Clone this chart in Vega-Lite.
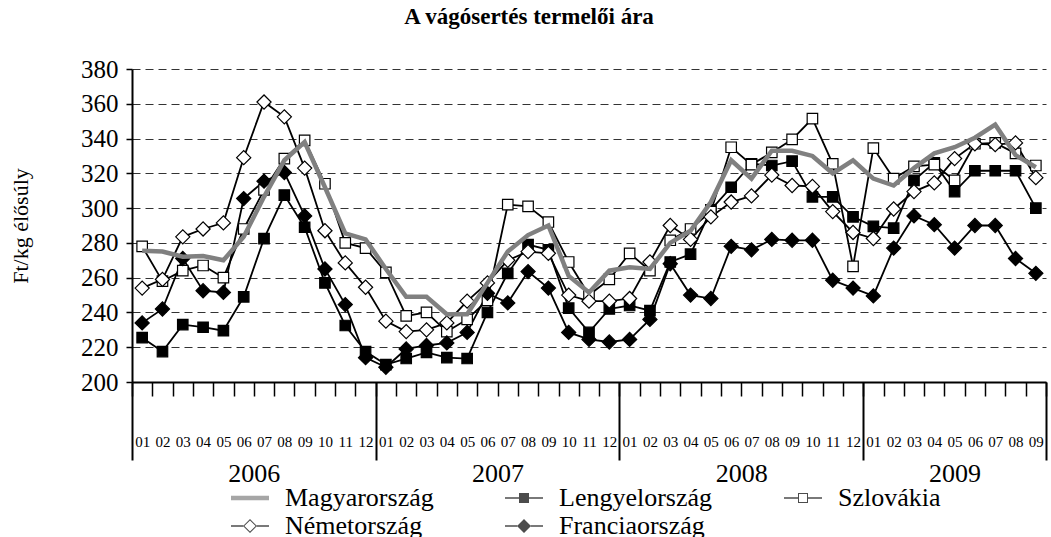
{
  "$schema": "https://vega.github.io/schema/vega-lite/v6.json",
  "width": 914,
  "height": 313,
  "autosize": "none",
  "padding": {"left": 132, "top": 69, "right": 5, "bottom": 155},
  "config": {
    "font": "Liberation Serif",
    "view": {"stroke": null},
    "axis": {"labelFont": "Liberation Serif", "titleFont": "Liberation Serif", "labelColor": "black", "titleColor": "black"},
    "legend": {
      "orient": "none",
      "direction": "horizontal",
      "legendX": 105,
      "legendY": 416,
      "columns": 3,
      "columnPadding": 71,
      "rowPadding": 2,
      "symbolSize": 400,
      "symbolStrokeWidth": 0,
      "labelFont": "Liberation Serif",
      "labelFontSize": 26,
      "labelColor": "black",
      "labelOffset": 22,
      "labelLimit": 400,
      "padding": 0
    }
  },
  "title": {
    "text": "A vágósertés termelői ára",
    "font": "Liberation Serif",
    "fontSize": 23,
    "fontWeight": "bold",
    "color": "black",
    "anchor": "middle",
    "offset": 28,
    "dx": -60
  },
  "layer": [
    {
      "data": {
        "values": [
          {"m": "2006-01", "Magyarország": 275.5, "Lengyelország": 225.5, "Szlovákia": 278, "Németország": 254, "Franciaország": 234},
          {"m": "2006-02", "Magyarország": 275, "Lengyelország": 217.5, "Szlovákia": 258, "Németország": 259, "Franciaország": 242},
          {"m": "2006-03", "Magyarország": 272, "Lengyelország": 233, "Szlovákia": 264, "Németország": 283.5, "Franciaország": 271},
          {"m": "2006-04", "Magyarország": 272.5, "Lengyelország": 231.5, "Szlovákia": 267, "Németország": 288, "Franciaország": 252.5},
          {"m": "2006-05", "Magyarország": 270, "Lengyelország": 229.5, "Szlovákia": 260, "Németország": 291.5, "Franciaország": 251.5},
          {"m": "2006-06", "Magyarország": 283.5, "Lengyelország": 249, "Szlovákia": 288, "Németország": 329, "Franciaország": 305.5},
          {"m": "2006-07", "Magyarország": 306.5, "Lengyelország": 282.5, "Szlovákia": 310.5, "Németország": 361, "Franciaország": 315.5},
          {"m": "2006-08", "Magyarország": 327.5, "Lengyelország": 307.5, "Szlovákia": 328.5, "Németország": 352.5, "Franciaország": 320.5},
          {"m": "2006-09", "Magyarország": 338, "Lengyelország": 289, "Szlovákia": 339, "Németország": 323, "Franciaország": 295.5},
          {"m": "2006-10", "Magyarország": 312, "Lengyelország": 257, "Szlovákia": 314, "Németország": 287, "Franciaország": 265},
          {"m": "2006-11", "Magyarország": 285.5, "Lengyelország": 232.5, "Szlovákia": 280, "Németország": 268.5, "Franciaország": 244.5},
          {"m": "2006-12", "Magyarország": 282, "Lengyelország": 217.5, "Szlovákia": 277, "Németország": 254.5, "Franciaország": 214},
          {"m": "2007-01", "Magyarország": 265, "Lengyelország": 210, "Szlovákia": 263, "Németország": 235, "Franciaország": 208.5},
          {"m": "2007-02", "Magyarország": 249, "Lengyelország": 213.5, "Szlovákia": 238, "Németország": 229, "Franciaország": 219},
          {"m": "2007-03", "Magyarország": 249, "Lengyelország": 217, "Szlovákia": 240, "Németország": 230, "Franciaország": 221},
          {"m": "2007-04", "Magyarország": 239, "Lengyelország": 214, "Szlovákia": 229, "Németország": 234, "Franciaország": 222.5},
          {"m": "2007-05", "Magyarország": 239, "Lengyelország": 213.5, "Szlovákia": 236, "Németország": 246.5, "Franciaország": 228.5},
          {"m": "2007-06", "Magyarország": 257, "Lengyelország": 240, "Szlovákia": 247, "Németország": 257, "Franciaország": 251},
          {"m": "2007-07", "Magyarország": 275, "Lengyelország": 262.5, "Szlovákia": 302, "Németország": 270, "Franciaország": 245.5},
          {"m": "2007-08", "Magyarország": 284.5, "Lengyelország": 279, "Szlovákia": 301, "Németország": 275, "Franciaország": 263.5},
          {"m": "2007-09", "Magyarország": 290, "Lengyelország": 276, "Szlovákia": 292, "Németország": 274, "Franciaország": 254},
          {"m": "2007-10", "Magyarország": 261, "Lengyelország": 242.5, "Szlovákia": 269, "Németország": 250, "Franciaország": 228.5},
          {"m": "2007-11", "Magyarország": 251.5, "Lengyelország": 228.5, "Szlovákia": 250, "Németország": 246.5, "Franciaország": 224.5},
          {"m": "2007-12", "Magyarország": 264, "Lengyelország": 242, "Szlovákia": 259, "Németország": 246.5, "Franciaország": 223},
          {"m": "2008-01", "Magyarország": 266, "Lengyelország": 244, "Szlovákia": 274, "Németország": 248, "Franciaország": 224.5},
          {"m": "2008-02", "Magyarország": 265, "Lengyelország": 241, "Szlovákia": 264, "Németország": 269, "Franciaország": 236},
          {"m": "2008-03", "Magyarország": 280, "Lengyelország": 269, "Szlovákia": 281.5, "Németország": 290, "Franciaország": 268},
          {"m": "2008-04", "Magyarország": 287, "Lengyelország": 273.5, "Szlovákia": 288, "Németország": 282, "Franciaország": 250},
          {"m": "2008-05", "Magyarország": 303.5, "Lengyelország": 299, "Szlovákia": 298, "Németország": 295, "Franciaország": 248},
          {"m": "2008-06", "Magyarország": 327.5, "Lengyelország": 312, "Szlovákia": 335, "Németország": 303.5, "Franciaország": 278},
          {"m": "2008-07", "Magyarország": 317, "Lengyelország": 325.5, "Szlovákia": 325, "Németország": 307, "Franciaország": 276},
          {"m": "2008-08", "Magyarország": 333, "Lengyelország": 324.5, "Szlovákia": 332, "Németország": 319, "Franciaország": 282},
          {"m": "2008-09", "Magyarország": 333, "Lengyelország": 327, "Szlovákia": 339.5, "Németország": 313, "Franciaország": 281.5},
          {"m": "2008-10", "Magyarország": 330, "Lengyelország": 306.5, "Szlovákia": 351.5, "Németország": 312.5, "Franciaország": 281.5},
          {"m": "2008-11", "Magyarország": 320, "Lengyelország": 306.5, "Szlovákia": 325.5, "Németország": 298, "Franciaország": 258.5},
          {"m": "2008-12", "Magyarország": 327.5, "Lengyelország": 295, "Szlovákia": 266.5, "Németország": 286, "Franciaország": 254},
          {"m": "2009-01", "Magyarország": 317, "Lengyelország": 289.5, "Szlovákia": 334.5, "Németország": 282.5, "Franciaország": 249.5},
          {"m": "2009-02", "Magyarország": 313, "Lengyelország": 288.5, "Szlovákia": 317, "Németország": 299.5, "Franciaország": 277},
          {"m": "2009-03", "Magyarország": 323, "Lengyelország": 316, "Szlovákia": 324, "Németország": 309.5, "Franciaország": 295.5},
          {"m": "2009-04", "Magyarország": 331.5, "Lengyelország": 326, "Szlovákia": 325, "Németország": 314.5, "Franciaország": 290.5},
          {"m": "2009-05", "Magyarország": 335, "Lengyelország": 309.5, "Szlovákia": 316, "Németország": 328.5, "Franciaország": 277},
          {"m": "2009-06", "Magyarország": 340.5, "Lengyelország": 321.5, "Szlovákia": 337, "Németország": 337, "Franciaország": 290},
          {"m": "2009-07", "Magyarország": 348, "Lengyelország": 321.5, "Szlovákia": 337.5, "Németország": 336.5, "Franciaország": 290},
          {"m": "2009-08", "Magyarország": 330.5, "Lengyelország": 321.5, "Szlovákia": 331.5, "Németország": 337.5, "Franciaország": 271},
          {"m": "2009-09", "Magyarország": 323.5, "Lengyelország": 300, "Szlovákia": 324.5, "Németország": 317.5, "Franciaország": 262.5}
        ]
      },
      "transform": [
        {"fold": ["Magyarország", "Lengyelország", "Szlovákia", "Németország", "Franciaország"], "as": ["c", "v"]}
      ],
      "encoding": {
        "x": {
          "field": "m",
          "type": "ordinal",
          "scale": {"paddingInner": 0, "paddingOuter": 0},
          "axis": {
            "orient": "bottom",
            "labelExpr": "isValid(datum.value) ? substring(datum.value + '', 5, 7) : ''",
            "title": null,
            "ticks": true,
            "tickBand": "extent",
            "tickSize": 14,
            "tickWidth": 1.5,
            "tickColor": "black",
            "domainColor": "black",
            "domainWidth": 2,
            "labelAngle": 0,
            "labelFontSize": 15,
            "labelPadding": 38,
            "labelOverlap": false
          }
        },
        "y": {
          "field": "v",
          "type": "quantitative",
          "scale": {"domain": [200, 380], "nice": false, "zero": false},
          "axis": {
            "values": [200, 220, 240, 260, 280, 300, 320, 340, 360, 380],
            "grid": true,
            "gridDash": [8, 5],
            "gridColor": "#333333",
            "gridWidth": 1,
            "domainColor": "black",
            "domainWidth": 2,
            "tickColor": "black",
            "tickSize": 6,
            "tickWidth": 1.5,
            "labelFontSize": 25,
            "labelPadding": 8,
            "title": "Ft/kg élősúly",
            "titleFontSize": 22,
            "titleFontWeight": "normal",
            "titlePadding": 48
          }
        }
      },
      "layer": [
        {
          "transform": [{"filter": "datum.c !== 'Magyarország'"}],
          "mark": {"type": "line", "color": "black", "strokeWidth": 1.8},
          "encoding": {"detail": {"field": "c"}}
        },
        {
          "transform": [{"filter": "datum.c === 'Lengyelország'"}],
          "mark": {"type": "point", "shape": "square", "size": 110, "filled": true, "fill": "black", "stroke": "black", "strokeWidth": 1.2, "opacity": 1}
        },
        {
          "transform": [{"filter": "datum.c === 'Szlovákia'"}],
          "mark": {"type": "point", "shape": "square", "size": 110, "filled": true, "fill": "white", "stroke": "black", "strokeWidth": 1.2, "opacity": 1}
        },
        {
          "transform": [{"filter": "datum.c === 'Németország'"}],
          "mark": {"type": "point", "shape": "diamond", "size": 200, "filled": true, "fill": "white", "stroke": "black", "strokeWidth": 1.2, "opacity": 1}
        },
        {
          "transform": [{"filter": "datum.c === 'Franciaország'"}],
          "mark": {"type": "point", "shape": "diamond", "size": 200, "filled": true, "fill": "black", "stroke": "black", "strokeWidth": 1.2, "opacity": 1}
        },
        {
          "transform": [{"filter": "datum.c === 'Magyarország'"}],
          "mark": {"type": "line", "color": "#808080", "strokeWidth": 4.5},
          "encoding": {}
        }
      ]
    },
    {
      "data": {"values": [{"b": 0}, {"b": 12}, {"b": 24}, {"b": 36}, {"b": 45}]},
      "mark": {"type": "point", "opacity": 0},
      "encoding": {
        "x": {
          "field": "b",
          "type": "quantitative",
          "scale": {"domain": [0, 45], "nice": false, "zero": false},
          "axis": {"orient": "bottom", "values": [0, 12, 24, 36, 45], "labels": false, "domain": false, "grid": false, "ticks": true, "tickSize": 78, "tickWidth": 2, "tickColor": "black", "title": null}
        }
      }
    },
    {
      "data": {"values": [{"cy": 6}, {"cy": 18}, {"cy": 30}, {"cy": 40.5}]},
      "mark": {"type": "point", "opacity": 0},
      "encoding": {
        "x": {
          "field": "cy",
          "type": "quantitative",
          "scale": {"domain": [0, 45], "nice": false, "zero": false},
          "axis": {"orient": "bottom", "values": [6, 18, 30, 40.5], "labelExpr": "datum.value < 12 ? '2006' : datum.value < 24 ? '2007' : datum.value < 36 ? '2008' : '2009'", "ticks": false, "tickSize": 0, "domain": false, "grid": false, "labelFontSize": 26, "labelPadding": 78, "labelFlush": false, "labelOverlap": false, "title": null}
        }
      }
    },
    {
      "data": {"values": [{"c": "Magyarország"}, {"c": "Lengyelország"}, {"c": "Szlovákia"}, {"c": "Németország"}, {"c": "Franciaország"}]},
      "transform": [{"filter": "false"}],
      "mark": {"type": "point", "filled": true},
      "encoding": {
        "shape": {
          "field": "c",
          "type": "nominal",
          "scale": {
            "domain": ["Magyarország", "Lengyelország", "Szlovákia", "Németország", "Franciaország"],
            "range": [
              "M-1.9,-0.22H1.9V0.22H-1.9Z",
              "M-1.9,-0.08H-0.5V0.08H-1.9Z M0.5,-0.08H1.9V0.08H0.5Z M-0.5,-0.5H0.5V0.5H-0.5Z",
              "M-1.9,-0.08H-0.5V0.08H-1.9Z M0.5,-0.08H1.9V0.08H0.5Z M-0.5,-0.5H0.5V0.5H-0.5Z M-0.4,-0.4V0.4H0.4V-0.4Z",
              "M-1.9,-0.08H-0.68V0.08H-1.9Z M0.68,-0.08H1.9V0.08H0.68Z M-0.7,0L0,-0.7L0.7,0L0,0.7Z M-0.56,0L0,0.56L0.56,0L0,-0.56Z",
              "M-1.9,-0.08H-0.68V0.08H-1.9Z M0.68,-0.08H1.9V0.08H0.68Z M-0.7,0L0,-0.7L0.7,0L0,0.7Z"
            ]
          },
          "legend": {"title": null}
        },
        "color": {
          "field": "c",
          "type": "nominal",
          "scale": {"domain": ["Magyarország", "Lengyelország", "Szlovákia", "Németország", "Franciaország"], "range": ["#808080", "black", "black", "black", "black"]},
          "legend": {"title": null}
        }
      }
    }
  ],
  "resolve": {"scale": {"x": "independent"}, "axis": {"x": "independent"}}
}
